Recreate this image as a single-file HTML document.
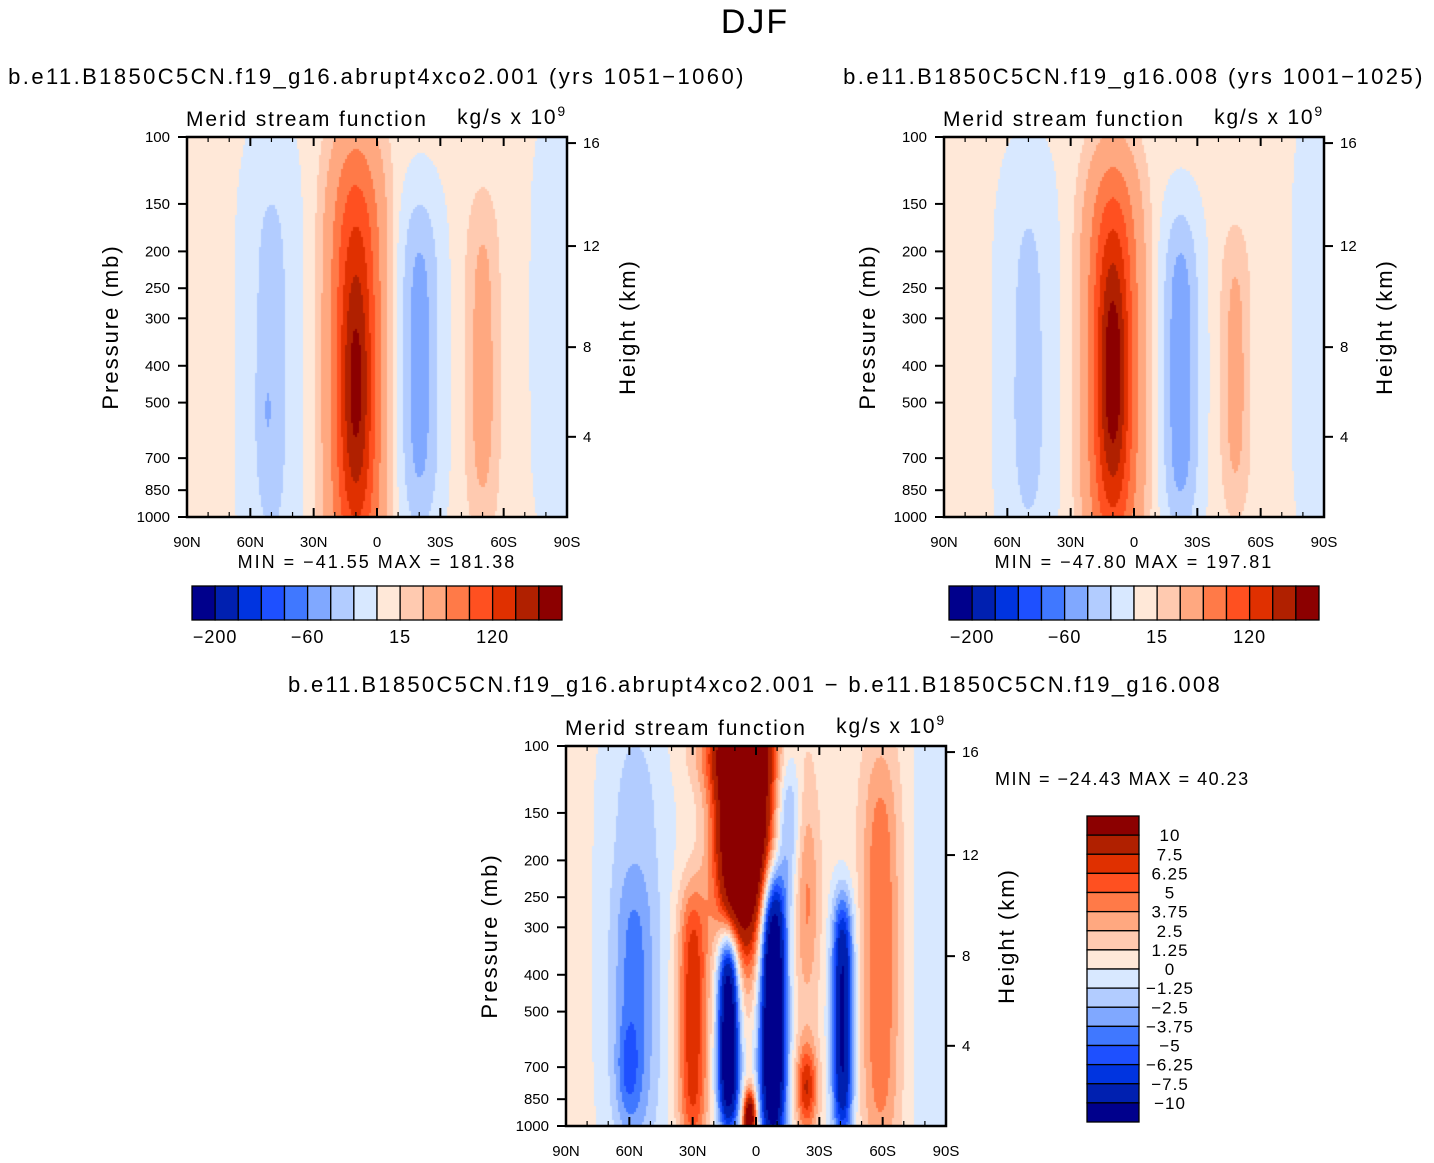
<!DOCTYPE html>
<html><head><meta charset="utf-8">
<style>
html,body{margin:0;padding:0;background:#fff;}
body{width:1434px;height:1163px;position:relative;overflow:hidden;font-family:"Liberation Sans",sans-serif;}
canvas{position:absolute;}
svg{position:absolute;left:0;top:0;}
</style></head>
<body>
<canvas id="c1" width="380" height="380" style="left:187px;top:137px"></canvas>
<canvas id="c2" width="380" height="380" style="left:944px;top:137px"></canvas>
<canvas id="c3" width="380" height="380" style="left:566px;top:746px"></canvas>
<svg id="ov" width="1434" height="1163" font-family="Liberation Sans, sans-serif"></svg>
<script>
const colors = ["#00008c","#0020b0","#0034e0","#1e50ff","#4078ff","#80a8ff","#b2ccff","#d8e8ff","#ffe8d8","#ffcab0","#ffa880","#ff7a48","#ff5020","#e03000","#b02000","#8c0000"];
const levelsAbs = [-200,-150,-100,-80,-60,-40,-20,0,15,30,60,90,120,150,180];
const levelsDiff = [-10,-7.5,-6.25,-5,-3.75,-2.5,-1.25,0,1.25,2.5,3.75,5,6.25,7.5,10];
const cbAbsLabels = ["-200","-60","15","120"];
const cbDiffLabels = ["10","7.5","6.25","5","3.75","2.5","1.25","0","-1.25","-2.5","-3.75","-5","-6.25","-7.5","-10"];
const presTicks = [100,150,200,250,300,400,500,700,850,1000];
const kmTicks = [4,8,12,16];
const kmTickZ = [0.789,0.553,0.287,0.016];
const latTicks = ["90N","60N","30N","0","30S","60S","90S"];

const p1Lat = [10,10,50,52,-20,-50,-50,-85];
const p1Z   = [0.6,0.65,0.6,0.72,0.6,0.6,0.65,0.5];
const p1Amp = [120,70,-32,-15,-55,32,10,-15];
const p1WL  = [13,7,13,4,10,8,4,12];
const p1WZ  = [0.6,0.3,0.6,0.15,0.45,0.45,0.15,0.6];
const p1PZ  = [4,2,4,2,4,4,2,4];
const p1Base = 5;

const p2Lat = [10,10,50,50,-22,-48,-48,-85];
const p2Z   = [0.6,0.62,0.6,0.7,0.62,0.62,0.65,0.5];
const p2Amp = [115,90,-30,-8,-60,30,12,-15];
const p2WL  = [13,7,13,5,9,7,3,10];
const p2WZ  = [0.55,0.3,0.55,0.2,0.43,0.38,0.15,0.6];
const p2PZ  = [4,2,4,2,4,4,2,4];
const p2Base = 5;

const p3Lat = [6,13,-8,3,30,58,61,57,-41,-24,-24,-15,-59,-84,8];
const p3Z   = [0.2,0.75,0.7,0.98,0.72,0.7,0.85,0.5,0.72,0.9,0.4,0.2,0.55,0.5,0.02];
const p3Amp = [22,-15,-17,14,7,-2.5,-2,-2.5,-11,7,3.5,-4,4.5,-1.6,6];
const p3WL  = [12,5,6,3,7,9,5,16,5,5,6,6,9,10,18];
const p3WZ  = [0.32,0.26,0.36,0.07,0.35,0.35,0.12,0.65,0.32,0.12,0.3,0.22,0.55,0.8,0.1];
const p3PZ  = [2,4,4,2,4,4,2,4,4,2,2,2,4,4,2];
const p3Base = 0.5;

function field(lat,z,L,Z,A,WL,WZ,PZ,base){
  let v=base;
  for(let i=0;i<L.length;i++){
    const dl=(lat-L[i])/WL[i], dz=Math.abs((z-Z[i])/WZ[i]);
    v+=A[i]*Math.exp(-dl*dl-Math.pow(dz,PZ[i]));
  }
  return v;
}
function colorFor(v,lev){let k=0;while(k<lev.length&&v>=lev[k])k++;return colors[k];}
function drawField(id,L,Z,A,WL,WZ,PZ,base,lev){
  const ctx=document.getElementById(id).getContext('2d');
  const s=2;
  for(let py=0;py<380;py+=s){
    const z=(py+1)/380;
    for(let px=0;px<380;px+=s){
      const lat=90-(px+1)/380*180;
      ctx.fillStyle=colorFor(field(lat,z,L,Z,A,WL,WZ,PZ,base),lev);
      ctx.fillRect(px,py,s,s);
    }
  }
}
drawField('c1',p1Lat,p1Z,p1Amp,p1WL,p1WZ,p1PZ,p1Base,levelsAbs);
drawField('c2',p2Lat,p2Z,p2Amp,p2WL,p2WZ,p2PZ,p2Base,levelsAbs);
drawField('c3',p3Lat,p3Z,p3Amp,p3WL,p3WZ,p3PZ,p3Base,levelsDiff);

const NS='http://www.w3.org/2000/svg';
const ov=document.getElementById('ov');
function el(tag,attrs,parent){const e=document.createElementNS(NS,tag);for(const k in attrs)e.setAttribute(k,attrs[k]);(parent||ov).appendChild(e);return e;}
function txt(x,y,s,size,anchor,name,extra){
  const t=el('text',Object.assign({x:x,y:y,'font-size':size,'text-anchor':anchor||'start',fill:'#000'},extra||{}));
  t.textContent=s;
  
  
  return t;
}

function axes(x0,y0,pfx){
  const g=el('g',{});
  
  
  el('rect',{x:x0,y:y0,width:380,height:380,fill:'none',stroke:'#000','stroke-width':2.5},g);
  for(let d=0;d<=180;d+=10){
    const x=x0+d/180*380, major=d%30===0, len=major?9:5;
    el('line',{x1:x,y1:y0+380,x2:x,y2:y0+380-len,stroke:'#000','stroke-width':major?2:1.2},g);
    el('line',{x1:x,y1:y0,x2:x,y2:y0+len,stroke:'#000','stroke-width':major?2:1.2},g);
  }
  latTicks.forEach((s,i)=>txt(x0+i*380/6,y0+410,s,15,'middle',pfx+'-lat-label'));
  presTicks.forEach(p=>{
    const y=y0+Math.log10(p/100)*380;
    el('line',{x1:x0,y1:y,x2:x0-9,y2:y,stroke:'#000','stroke-width':2},g);
    txt(x0-17,y+5,String(p),15,'end',pfx+'-pressure-label');
  });
  kmTicks.forEach((k,i)=>{
    const y=y0+kmTickZ[i]*380;
    el('line',{x1:x0+380,y1:y,x2:x0+389,y2:y,stroke:'#000','stroke-width':2},g);
    txt(x0+396,y+5,String(k),15,'start',pfx+'-height-label');
  });
  txt(x0-1,y0-11,'Merid stream function',21,'start',pfx+'-field-title',{'letter-spacing':'1.9'});
  const u=txt(x0+380,y0-13,'kg/s x 10',21,'end',pfx+'-units',{'letter-spacing':'1.8'});
  const sup=el('tspan',{'font-size':14,dy:-8});sup.textContent='9';u.appendChild(sup);
  txt(0,0,'Pressure (mb)',22,'middle',pfx+'-y-axis-title',{transform:`translate(${x0-69},${y0+190}) rotate(-90)`,'letter-spacing':'2'});
  txt(0,0,'Height (km)',22,'middle',pfx+'-y2-axis-title',{transform:`translate(${x0+448},${y0+190}) rotate(-90)`,'letter-spacing':'2'});
}
function hbar(x0,y0,pfx){
  const w=370/16;
  colors.forEach((c,i)=>{
    const r=el('rect',{x:x0+i*w,y:y0,width:w,height:34,fill:c,stroke:'#000','stroke-width':1.3});
    
    
  });
  cbAbsLabels.forEach((s,i)=>txt(x0+(1+4*i)*w,y0+57,s.replace('-','\u2212'),18,'middle',pfx+'-colorbar-label',{'letter-spacing':'1'}));
}
txt(755,33,'DJF',34,'middle','main-title',{'letter-spacing':'2'});
txt(377,84,'b.e11.B1850C5CN.f19_g16.abrupt4xco2.001 (yrs 1051\u22121060)',22,'middle','panel1-title',{'letter-spacing':'2.4','xml:space':'preserve'});
txt(1134,84,'b.e11.B1850C5CN.f19_g16.008 (yrs 1001\u22121025)',22,'middle','panel2-title',{'letter-spacing':'2.4'});
txt(755,692,'b.e11.B1850C5CN.f19_g16.abrupt4xco2.001 \u2212 b.e11.B1850C5CN.f19_g16.008',22,'middle','diff-title',{'letter-spacing':'2.3'});
axes(187,137,'panel1');axes(944,137,'panel2');axes(566,746,'diff');
txt(377,568,'MIN = \u221241.55   MAX = 181.38',18,'middle','panel1-minmax',{'xml:space':'preserve','letter-spacing':'2'});
txt(1134,568,'MIN = \u221247.80   MAX = 197.81',18,'middle','panel2-minmax',{'xml:space':'preserve','letter-spacing':'2'});
txt(995,785,'MIN = \u221224.43   MAX =  40.23',18,'start','diff-minmax',{'xml:space':'preserve','letter-spacing':'1.5'});
hbar(192,586,'panel1');hbar(949,586,'panel2');
const vh=306/16;
for(let i=0;i<16;i++){
  const r=el('rect',{x:1087,y:816+i*vh,width:52,height:vh,fill:colors[15-i],stroke:'#000','stroke-width':1.3});
  
  
}
cbDiffLabels.forEach((s,i)=>txt(1170,816+(i+1)*vh+6,s.replace('-','\u2212'),17,'middle','diff-colorbar-label',{'letter-spacing':'1'}));
</script>
</body></html>
